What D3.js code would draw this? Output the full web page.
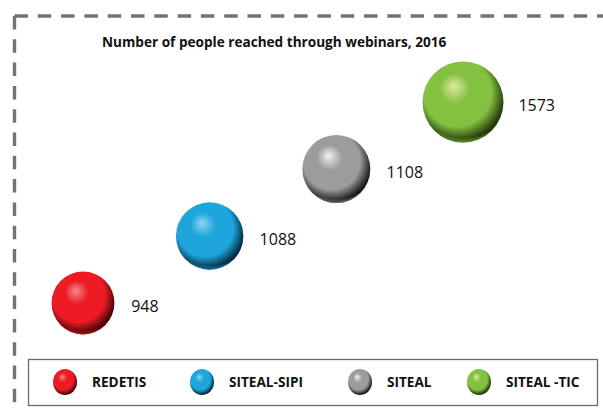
<!DOCTYPE html>
<html lang="en">
<head>
<meta charset="utf-8">
<title>Webinars 2016</title>
<script src="https://d3js.org/d3.v7.min.js"></script>
<style>
  body { margin: 0; background: #fff; }
  svg { display: block; }
</style>
</head>
<body>
<div id="chart"></div>
<script>
// data
var programs = ["REDETIS", "SITEAL-SIPI", "SITEAL", "SITEAL -TIC"];
var reached  = [948, 1088, 1108, 1573];
var baseColors  = ["#ed1c24", "#1ea6dc", "#9c9c9c", "#84c141"];
var lightColors = ["#f58a8e", "#8fd3ef", "#f2f2f2", "#dfeaa0"];
var darkColors  = ["#4a0507", "#062c42", "#1a1a1a", "#233a0a"];
var title = "Number of people reached through webinars, 2016";

var width = 603, height = 412;

var svg = d3.select("#chart").append("svg")
    .attr("width", width)
    .attr("height", height);

var defs = svg.append("defs");

// sphere shading, one gradient per program
programs.forEach(function(p, i) {
  var g = defs.append("radialGradient")
      .attr("id", "sphere" + i)
      .attr("cx", "0.45").attr("cy", "0.42").attr("r", "0.62")
      .attr("fx", "0.38").attr("fy", "0.3");
  g.append("stop").attr("offset", "0%").attr("stop-color", lightColors[i]);
  g.append("stop").attr("offset", "30%").attr("stop-color", baseColors[i]);
  g.append("stop").attr("offset", "68%").attr("stop-color", baseColors[i]);
  g.append("stop").attr("offset", "92%").attr("stop-color", darkColors[i]);
  g.append("stop").attr("offset", "100%").attr("stop-color", darkColors[i]);

  // light rim reflection along the bottom
  var rim = defs.append("radialGradient")
      .attr("id", "rim" + i)
      .attr("cx", "0.5").attr("cy", "0.25").attr("r", "0.78");
  rim.append("stop").attr("offset", "88%").attr("stop-color", baseColors[i]).attr("stop-opacity", 0);
  rim.append("stop").attr("offset", "100%").attr("stop-color", baseColors[i]).attr("stop-opacity", 0.95);
});

// dashed outer frame (starts at top-left corner)
var frame = svg.append("g")
    .attr("fill", "none")
    .attr("stroke", "#737373")
    .attr("stroke-width", 3.4)
    .attr("stroke-dasharray", "13.5,9.8");
frame.append("path").attr("d", "M14.5,16 H620");
frame.append("path").attr("d", "M14.5,16 V430");

// title
svg.append("text")
    .attr("x", 102)
    .attr("y", 47)
    .attr("font-family", "'Open Sans', sans-serif")
    .attr("font-weight", "bold")
    .attr("font-size", "13.6px")
    .attr("fill", "#111")
    .text(title);

// bubbles on a diagonal, area by value
var x = d3.scalePoint().domain(programs).range([83, 463]);
var y = d3.scalePoint().domain(programs).range([303, 102]);
var r = d3.scaleSqrt().domain([0, d3.max(reached)]).range([0, 40.5]);

var data = programs.map(function(p, i) { return {name: p, value: reached[i], i: i}; });

var bubble = svg.append("g").selectAll("g")
    .data(data)
    .enter().append("g");

bubble.append("circle")
    .attr("cx", function(d) { return x(d.name); })
    .attr("cy", function(d) { return y(d.name); })
    .attr("r", function(d) { return r(d.value); })
    .attr("fill", function(d) { return "url(#sphere" + d.i + ")"; });

bubble.append("circle")
    .attr("cx", function(d) { return x(d.name); })
    .attr("cy", function(d) { return y(d.name); })
    .attr("r", function(d) { return r(d.value); })
    .attr("fill", function(d) { return "url(#rim" + d.i + ")"; });

bubble.append("text")
    .attr("x", function(d) { return x(d.name) + r(d.value) * 0.8 + 23; })
    .attr("y", function(d) { return y(d.name) + 3; })
    .attr("dy", "0.35em")
    .attr("font-family", "'Open Sans', sans-serif")
    .attr("font-size", "16px")
    .attr("fill", "#111")
    .text(function(d) { return d.value; });

// legend
var legend = svg.append("g");
legend.append("rect")
    .attr("x", 28.5).attr("y", 359.5)
    .attr("width", 569).attr("height", 46)
    .attr("fill", "#fff")
    .attr("stroke", "#6a6a6a")
    .attr("stroke-width", 1.3);

var markerX = [65, 202, 360, 479];

var item = legend.selectAll("g")
    .data(data)
    .enter().append("g")
    .attr("transform", function(d) { return "translate(" + markerX[d.i] + ",382)"; });

item.append("ellipse")
    .attr("rx", 12).attr("ry", 13)
    .attr("fill", function(d) { return "url(#sphere" + d.i + ")"; });

item.append("text")
    .attr("x", 27)
    .attr("dy", "0.35em")
    .attr("font-family", "'Open Sans', sans-serif")
    .attr("font-weight", "bold")
    .attr("font-size", "13.6px")
    .attr("fill", "#111")
    .text(function(d) { return d.name; });
</script>
</body>
</html>
